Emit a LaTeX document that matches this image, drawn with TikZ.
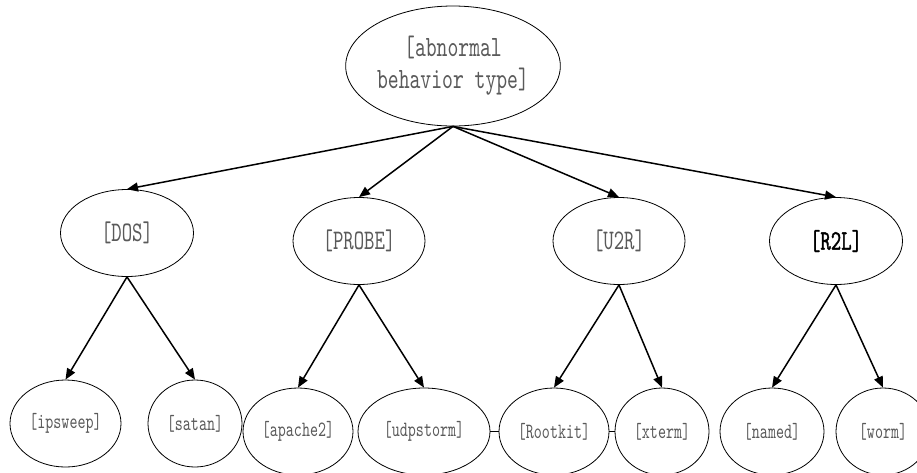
\documentclass[tikz,border=0pt]{standalone}
\usepackage{fontspec}
\usetikzlibrary{arrows.meta, shapes.geometric}
\newfontfamily\simfont[FakeStretch=0.7]{lmmono10-regular.otf}
\definecolor{c1}{HTML}{000000}
\definecolor{labelcolor}{HTML}{5A5A5A}

\begin{document}
\begin{tikzpicture}[
    x=1pt, y=-1pt,
    every node/.style={font=\simfont},
    oval/.style={
        ellipse, draw=c1, line width=0.8pt, inner sep=0pt,
        minimum height=87pt, text=labelcolor,
    },
    arr/.style={-{Triangle[length=11pt, width=9pt]}, line width=1.5pt, color=c1},
    link/.style={line width=1.3pt, color=c1},
    big/.style={font=\simfont\fontsize{29.5}{32}\selectfont},
    mid/.style={font=\simfont\fontsize{28.3}{30}\selectfont},
    small/.style={font=\simfont\fontsize{21.8}{24}\selectfont},
]
\useasboundingbox (0,0) rectangle (917,472);

% ============================================================ the root
\node[oval, big, minimum width=211pt, minimum height=120pt, align=center]
    (root) at (453,66) {[abnormal\\behavior type]};

% ============================================================ the four classes
\node[oval, mid, minimum width=133pt] (dos)   at (127,233) {[DOS]};
\node[oval, mid, minimum width=132pt] (probe) at (359,241) {[PROBE]};
\node[oval, mid, minimum width=132pt] (u2r)   at (619,241) {[U2R]};
\node[oval, mid, minimum width=133pt, text=c1, line width=0.8pt]
    (r2l) at (836,241) {\addfontfeatures{FakeBold=1.2}[R2L]};

% ============================================================ the attacks
\node[oval, small, minimum width=111pt] (ipsweep)  at (65.5,423.5) {[ipsweep]};
\node[oval, small, minimum width=94pt]  (satan)    at (195,423.5)  {[satan]};
\node[oval, small, minimum width=110pt] (apache)   at (298,431.5)  {[apache2]};
\node[oval, small, minimum width=132pt] (udpstorm) at (424,431.5)  {[udpstorm]};
\node[oval, small, minimum width=110pt] (rootkit)  at (554,431.5)  {[Rootkit]};
\node[oval, small, minimum width=94pt]  (xterm)    at (662,431.5)  {[xterm]};
\node[oval, small, minimum width=104pt] (named)    at (772,431.5)  {[named]};
\node[oval, small, minimum width=94pt]  (worm)     at (883,431.5)  {[worm]};

% ============================================================ arrows
\foreach \b in {dos, probe, u2r, r2l}{
    \draw[arr] (root.south) -- (\b.north);
}
\foreach \a/\b in {dos/ipsweep, dos/satan, probe/apache, probe/udpstorm,
                   u2r/rootkit, u2r/xterm, r2l/named, r2l/worm}{
    \draw[arr] (\a.south) -- (\b.north);
}

% the two short ties on the bottom row
\draw[link] (udpstorm.east) -- (rootkit.west);
\draw[link] (rootkit.east) -- (xterm.west);

\end{tikzpicture}
\end{document}
